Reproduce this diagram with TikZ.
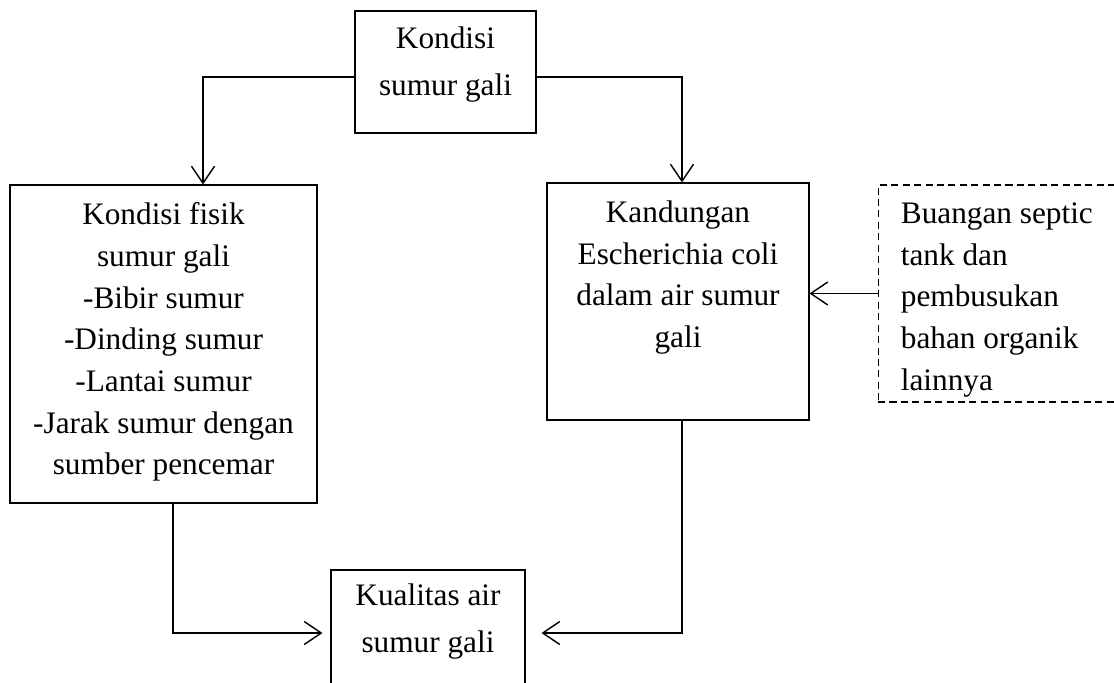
\documentclass[tikz,border=0pt]{standalone}
\usepackage{fontspec}
\setmainfont{Liberation Serif}
\usetikzlibrary{arrows.meta,positioning}

\begin{document}
\begin{tikzpicture}[
  kotak/.style={draw, rectangle, line width=0.6pt, inner sep=0pt},
  tulisan/.style={anchor=north, align=center, inner sep=0pt,
                  font=\fontsize{17.8}{23.7}\selectfont},
  renggang/.style={font=\fontsize{17.8}{26.5}\selectfont},
  panah/.style={->, line width=0.8pt},
  >={Straight Barb[length=0.34cm, width=0.46cm]}
]
\useasboundingbox (0,0) rectangle (22.28,-13.66);
\clip (0,0) rectangle (22.28,-13.66);

% kotak-kotak
\node[kotak, minimum width=3.62cm, minimum height=2.44cm,
      label={[tulisan, renggang, yshift=-0.32cm]north:{Kondisi\\sumur gali}}]
      (kondisi) at (8.91,-1.44) {};
\node[kotak, minimum width=6.14cm, minimum height=6.36cm,
      label={[tulisan, yshift=-0.36cm]north:{Kondisi fisik\\sumur gali\\-Bibir sumur\\-Dinding sumur\\-Lantai sumur\\-Jarak sumur dengan\\sumber pencemar}}]
      (fisik) at (3.27,-6.88) {};
\node[kotak, minimum width=5.24cm, minimum height=4.74cm,
      label={[tulisan, yshift=-0.36cm]north:{Kandungan\\Escherichia coli\\dalam air sumur\\gali}}]
      (ecoli) at (13.56,-6.03) {};
\node[kotak, dash pattern=on 4pt off 2.5pt, minimum width=5cm, minimum height=4.34cm,
      right=1.36cm of ecoli, yshift=0.16cm,
      label={[tulisan, anchor=north west, align=left, xshift=0.46cm, yshift=-0.36cm]north west:{Buangan septic\\tank dan\\pembusukan\\bahan organik\\lainnya}}]
      (septic) {};
\node[kotak, minimum width=3.88cm, minimum height=2.52cm,
      label={[tulisan, renggang, yshift=-0.28cm]north:{Kualitas air\\sumur gali}}]
      (kualitas) at (8.56,-12.66) {};

% panah
\draw[panah] ([yshift=-0.1cm]kondisi.west) -| ([xshift=0.79cm]fisik.north);
\draw[panah] ([yshift=-0.1cm]kondisi.east) -| ([xshift=0.08cm]ecoli.north);
\draw[panah, shorten >=0.16cm] ([xshift=0.19cm]fisik.south) |- (kualitas.west);
\draw[panah, shorten >=0.32cm] ([xshift=0.08cm]ecoli.south) |- (kualitas.east);
\draw[panah] (septic.west) -- (septic.west -| ecoli.east);
\end{tikzpicture}
\end{document}
